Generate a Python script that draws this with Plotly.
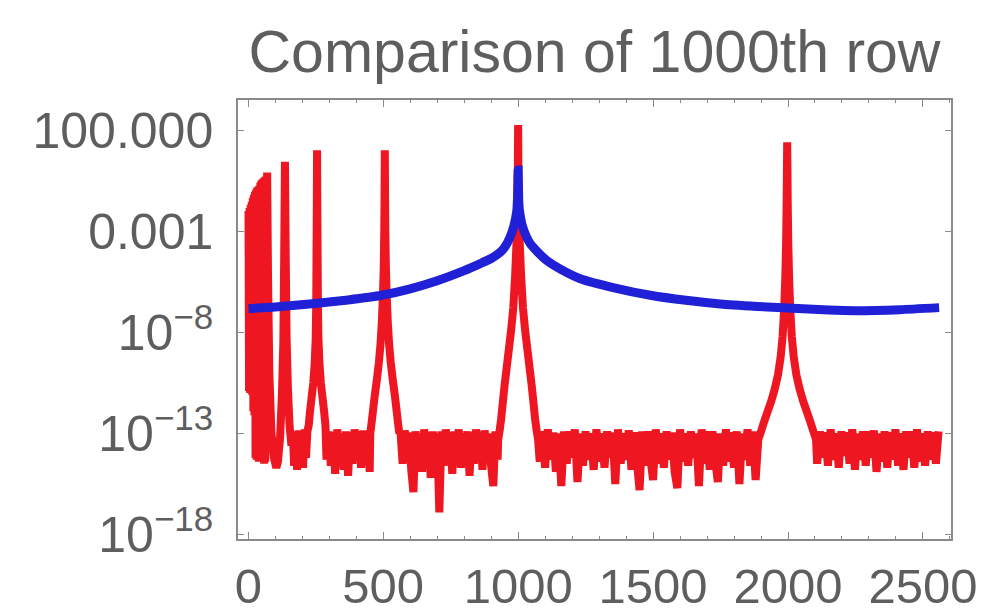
import plotly.graph_objects as go

# ---------------- text / ticks ----------------
title_text = "Comparison of 1000th row"
x_tick_vals = [0, 500, 1000, 1500, 2000, 2500]
x_tick_text = ["0", "500", "1000", "1500", "2000", "2500"]
y_tick_exps = [2, -3, -8, -13, -18]
y_tick_text = ["100.000", "0.001", "10<sup>\u22128</sup>", "10<sup>\u221213</sup>", "10<sup>\u221218</sup>"]

# ---------------- red series (values given as log10 of the value) ----------------
red_block_x = list(range(1, 66, 2))
red_block_e = [-2.0, -10.9, -1.85, -11.0, -1.7, -10.8, -1.55, -11.1, -1.35, -11.9,
               -1.2, -12.1, -1.05, -14.2, -0.95, -14.3, -0.85, -14.1, -0.8, -14.4,
               -0.75, -14.3, -0.6, -14.2, -0.5, -14.4, -0.45, -14.3, -0.4, -14.5,
               -0.35, -14.4, -0.3]

red_p70_x = [67, 70, 73, 78, 86, 95, 104, 110, 118, 125, 130, 133, 136, 139, 142, 147, 153, 160]
red_p70_e = [-12.0, -0.1, -5.0, -10.0, -13.0, -14.2, -14.7, -14.4, -13.2, -11.0,
             -8.5, -4.5, 0.43, -4.5, -8.3, -10.8, -12.6, -13.6]

red_f1_x = [165, 170, 176, 181, 187, 192, 198, 203, 209, 214, 219]
red_f1_e = [-12.9, -14.6, -13.0, -14.8, -12.85, -14.5, -12.95, -14.7, -12.8, -14.2, -12.9]

red_p255_x = [224, 229, 235, 241, 246, 250, 252, 253, 254, 255, 256, 257, 258, 260,
              264, 269, 275, 281, 286]
red_p255_e = [-12.6, -11.9, -11.2, -10.5, -9.6, -8.3, -6.5, -4.2, -2.0, 1.0, -2.0, -4.2,
              -6.5, -8.3, -9.6, -10.5, -11.2, -11.9, -12.6]

red_f2_x = list(range(290, 451, 8))
red_f2_e = [-14.3, -12.9, -14.6, -12.95, -15.0, -12.8, -14.4, -13.0, -14.8, -12.9,
            -15.1, -12.95, -14.5, -12.8, -14.2, -12.9, -14.7, -12.85, -14.4, -13.0, -14.9]

red_p506_x = [452, 456, 462, 469, 477, 484, 490, 495, 499, 502, 504, 505, 506,
              507, 508, 510, 513, 517, 522, 528, 535, 543, 550, 556, 560]
red_p506_e = [-13.0, -12.6, -11.9, -11.1, -10.3, -9.5, -8.6, -7.5, -6.2, -4.8, -3.0, -1.5, 1.0,
              -1.5, -3.0, -4.8, -6.2, -7.5, -8.6, -9.5, -10.3, -11.1, -11.9, -12.6, -13.0]

red_f3_x = list(range(564, 925, 8))
red_f3_e = [-12.9, -14.5, -12.85, -14.3, -12.95, -14.8, -15.9, -12.9, -14.4, -13.0,
            -14.9, -12.8, -14.2, -12.95, -15.2, -12.9, -14.5, -13.0, -16.9, -12.9,
            -14.6, -12.8, -14.3, -12.95, -15.0, -12.9, -14.4, -12.8, -14.7, -13.0,
            -14.2, -12.9, -15.1, -12.95, -14.5, -12.8, -14.3, -12.9, -14.8, -12.85,
            -14.4, -13.0, -14.6, -15.6, -12.9, -14.3]

red_p1000_x = [926, 931, 937, 943, 950, 958, 966, 974, 982, 989, 994, 997, 999, 1000,
               1001, 1003, 1006, 1011, 1018, 1026, 1034, 1042, 1050, 1057, 1063, 1069, 1074]
red_p1000_e = [-13.3, -12.9, -12.3, -11.5, -10.6, -9.7, -8.8, -7.9, -6.8, -5.2, -3.6, -1.8, 0.0, 2.25,
               0.0, -1.8, -3.6, -5.2, -6.8, -7.9, -8.8, -9.7, -10.6, -11.5, -12.3, -12.9, -13.3]

red_f4_x = list(range(1080, 1886, 10))
red_f4_e = [-14.4, -12.9, -14.7, -12.8, -14.3, -12.95, -14.9, -13.0, -15.6,
            -12.9, -14.5, -12.9, -14.2, -12.8, -15.4, -13.0, -14.6, -12.9, -14.3,
            -13.0, -14.8, -12.8, -14.4, -13.0, -14.7, -12.9, -14.2, -12.95, -15.5,
            -12.8, -14.5, -13.0, -14.3, -12.85, -14.8, -12.95, -14.4, -15.8, -12.9,
            -14.6, -12.9, -14.2, -15.3, -12.8, -14.5, -13.0, -14.7, -12.9, -14.3,
            -12.95, -14.9, -15.7, -12.8, -14.4, -13.0, -14.6, -12.9, -14.2, -13.0,
            -15.6, -12.8, -14.5, -12.9, -14.8, -12.9, -14.3, -15.4, -13.0, -14.6,
            -12.8, -14.4, -12.95, -14.7, -12.9, -15.5, -13.0, -14.3, -12.8, -14.6,
            -12.9, -15.3]

red_p2000_x = [1890, 1900, 1912, 1925, 1938, 1951, 1963, 1973, 1980, 1986, 1990, 1993, 1995, 1997,
               1999, 2001, 2004, 2008, 2014, 2021, 2031, 2043, 2056, 2069, 2082, 2094, 2104]
red_p2000_e = [-13.3, -12.9, -12.4, -11.9, -11.4, -10.8, -10.1, -9.2, -8.2, -6.8, -5.3, -3.6, -1.6, 1.4,
               -1.6, -3.6, -5.3, -6.8, -8.2, -9.2, -10.1, -10.8, -11.4, -11.9, -12.4, -12.9, -13.3]

red_f5_x = list(range(2108, 2559, 10))
red_f5_e = [-14.5, -12.9, -14.2, -12.95, -14.6, -12.8, -14.3, -13.0, -14.7, -12.9,
            -14.1, -12.95, -14.5, -12.8, -14.8, -13.0, -14.3, -12.9, -14.6, -12.9,
            -14.2, -12.85, -14.9, -13.0, -14.4, -12.9, -14.7, -12.95, -14.3, -12.8,
            -14.6, -13.0, -14.8, -12.9, -14.2, -12.9, -14.7, -12.8, -14.4, -13.0,
            -14.6, -12.9, -14.3, -12.95, -14.5, -12.9]

red_segments = [
    (red_block_x, red_block_e), (red_p70_x, red_p70_e), (red_f1_x, red_f1_e),
    (red_p255_x, red_p255_e), (red_f2_x, red_f2_e), (red_p506_x, red_p506_e),
    (red_f3_x, red_f3_e), (red_p1000_x, red_p1000_e), (red_f4_x, red_f4_e),
    (red_p2000_x, red_p2000_e), (red_f5_x, red_f5_e),
]
red_x, red_y = [], []
for sx, se in red_segments:
    assert len(sx) == len(se), (len(sx), len(se))
    red_x += sx
    red_y += [10 ** v for v in se]

# ---------------- blue series ----------------
blue_x = [1, 100, 247, 370, 494, 600, 700, 800, 860, 900, 933, 950, 970, 985, 995, 998, 1000,
          1002, 1005, 1015, 1030, 1044, 1070, 1106, 1160, 1230, 1356, 1490, 1622, 1750,
          1886, 2000, 2150, 2250, 2415, 2560]
blue_e = [-6.83, -6.75, -6.58, -6.4, -6.17, -5.85, -5.45, -4.95, -4.6, -4.35, -4.05, -3.8,
          -3.3, -2.7, -2.0, -1.3, 0.02,
          -1.4, -2.0, -2.7, -3.25, -3.6, -4.0, -4.45, -4.9, -5.35, -5.8, -6.17, -6.42, -6.6,
          -6.72, -6.8, -6.9, -6.93, -6.88, -6.78]
blue_y = [10 ** v for v in blue_e]

# ---------------- figure ----------------
# the page body adds an 8px margin around the figure, so the figure is 968x600
fig = go.Figure()
fig.add_trace(go.Scatter(x=red_x, y=red_y, mode="lines",
                         line=dict(color="rgb(238,22,32)", width=8, simplify=False),
                         hoverinfo="skip"))
fig.add_trace(go.Scatter(x=blue_x, y=blue_y, mode="lines",
                         line=dict(color="rgb(32,32,215)", width=9, shape="spline", smoothing=0.5),
                         hoverinfo="skip"))

axis_gray = "#8a8a8a"
label_gray = "#5e5e5e"
font_family = "Liberation Sans, Arial, sans-serif"

fig.update_layout(
    width=968, height=600,
    margin=dict(l=230, r=25, t=92, b=69, autoexpand=False),
    paper_bgcolor="white", plot_bgcolor="white",
    showlegend=False,
    title=dict(text=title_text, x=0.5, xref="paper", xanchor="center",
               y=1 - 43 / 600, yref="container", yanchor="middle",
               font=dict(family=font_family, size=59, color=label_gray)),
    xaxis=dict(range=[-38, 2604], showgrid=False, zeroline=False, automargin=False,
               showline=True, linecolor=axis_gray, linewidth=1.5, mirror="ticks",
               ticks="inside", ticklen=7, tickwidth=1.2, tickcolor=axis_gray,
               tickvals=x_tick_vals, ticktext=x_tick_text,
               ticklabelstandoff=3, ticklabeloverflow="allow",
               tickfont=dict(family=font_family, size=49, color=label_gray),
               minor=dict(dtick=100, tick0=0, ticks="inside", ticklen=3.5,
                          tickcolor=axis_gray, tickwidth=1, showgrid=False)),
    yaxis=dict(type="log", range=[-18.22, 3.485], showgrid=False, zeroline=False, automargin=False,
               showline=True, linecolor=axis_gray, linewidth=1.5, mirror="ticks",
               ticks="inside", ticklen=6, tickwidth=1.2, tickcolor=axis_gray,
               tickvals=[10 ** e for e in y_tick_exps], ticktext=y_tick_text,
               ticklabelstandoff=13, ticklabeloverflow="allow",
               tickfont=dict(family=font_family, size=50, color=label_gray)),
)

fig.write_html("out.html")
